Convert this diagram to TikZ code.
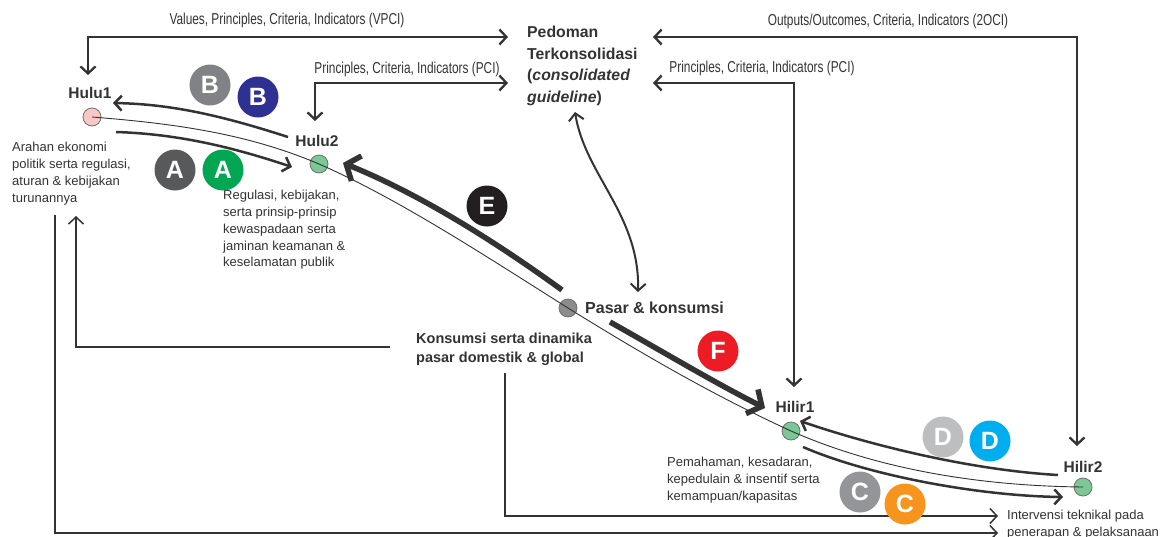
\documentclass[tikz,border=0pt]{standalone}
\usepackage{fontspec}
\setmainfont{Liberation Sans}
\newfontfamily\condfont{Liberation Sans}[FakeStretch=0.75]
\usetikzlibrary{arrows.meta}
\definecolor{ink}{HTML}{333333}
\definecolor{bgrayA}{HTML}{58595B}
\definecolor{bgreen}{HTML}{00A651}
\definecolor{bgrayB}{HTML}{808285}
\definecolor{bnavy}{HTML}{2E3192}
\definecolor{bblack}{HTML}{231F20}
\definecolor{bred}{HTML}{ED1C24}
\definecolor{bgrayD}{HTML}{BCBEC0}
\definecolor{bcyan}{HTML}{00AEEF}
\definecolor{bgrayC}{HTML}{939598}
\definecolor{borange}{HTML}{F7941D}
\definecolor{dotpink}{HTML}{F8C8C6}
\definecolor{dotgreen}{HTML}{7CC796}
\definecolor{dotgray}{HTML}{8C8C8C}
\tikzset{
  connline/.style={draw=ink, line width=2.3pt},
  fbline/.style={draw=ink, line width=1.5pt},
  flowarrow/.style={draw=ink, line width=2.5pt},
  thickarrow/.style={draw=ink, line width=5.5pt, arrows={-Straight Barb[length=11pt,width=27pt]}},
  mainline/.style={draw=ink, line width=0.9pt},
  dotnode/.style={circle, draw=ink!70, line width=0.8pt, minimum size=18pt, inner sep=0pt},
  badge/.style={circle, minimum size=41pt, inner sep=0pt, text=white, font=\fontsize{25}{25}\selectfont\bfseries},
  lbl/.style={text=ink, inner sep=0pt, font=\fontsize{15.5}{18}\selectfont\bfseries},
  bodytext/.style={text=ink, inner sep=0pt, align=left, anchor=north west, font=\fontsize{13}{17}\selectfont},
  clabel/.style={text=ink, inner sep=0pt, font=\condfont\fontsize{15.8}{17}\selectfont}
}
\begin{document}
\begin{tikzpicture}[x=1pt,y=-1pt,>={Straight Barb[length=7pt,width=15pt]}]
\path[use as bounding box, fill=white] (0,0) rectangle (1170,536);

% small dots on the chain
\node[dotnode, fill=dotpink] (h1) at (92,117) {};
\node[dotnode, fill=dotgreen] (h2) at (319,164) {};
\node[dotnode, fill=dotgray] (ps) at (568,308) {};
\node[dotnode, fill=dotgreen] (hi1) at (791,431) {};
\node[dotnode, fill=dotgreen] (hi2) at (1083,487) {};

% main thin line
\draw[mainline] (h1.center) .. controls (167,123) and (244,132) .. (h2.center)
  .. controls (399,199) and (487,257) .. (ps.center)
  .. controls (647,357) and (717,397) .. (hi1.center)
  .. controls (882,471) and (985,486) .. (hi2.center);

% labels of dots
\node[lbl] (lh1) at (90,93) {Hulu1};
\node[lbl] (lh2) at (317,141) {Hulu2};
\node[lbl, anchor=west, font=\fontsize{16}{18}\selectfont\bfseries] (lps) at (585,308) {Pasar \& konsumsi};
\node[lbl] (lhi1) at (795,407) {Hilir1};
\node[lbl] (lhi2) at (1083,467) {Hilir2};

\node[lbl, align=left, anchor=north west, font=\fontsize{15.8}{21.5}\selectfont\bfseries] (ped) at (527,26)
  {Pedoman\\Terkonsolidasi\\(\textit{consolidated}\\\textit{guideline})};

% body texts
\node[bodytext] (arahan) at (12,142) {Arahan ekonomi\\politik serta regulasi,\\aturan \& kebijakan\\turunannya};
\node[bodytext, font=\fontsize{13}{16.8}\selectfont] (regulasi) at (223,190) {Regulasi, kebijakan,\\serta prinsip-prinsip\\kewaspadaan serta\\jaminan keamanan \&\\keselamatan publik};
\node[bodytext, font=\fontsize{13}{16.7}\selectfont] (pemahaman) at (667,457) {Pemahaman, kesadaran,\\kepedulain \& insentif serta\\kemampuan/kapasitas};
\node[bodytext] (interv) at (1007,510) {Intervensi teknikal pada\\penerapan \& pelaksanaan};
\node[bodytext, font=\fontsize{14.5}{18.3}\selectfont\bfseries] (kons) at (416,333) {Konsumsi serta dinamika\\pasar domestik \& global};

% connector labels
\node[clabel] (lvpci) at (287,20) {Values, Principles, Criteria, Indicators (VPCI)};
\node[clabel] (lpci1) at (407,69) {Principles, Criteria, Indicators (PCI)};
\node[clabel] (l2oci) at (888,21) {Outputs/Outcomes, Criteria, Indicators (2OCI)};
\node[clabel] (lpci2) at (762,68) {Principles, Criteria, Indicators (PCI)};

% connectors to the guideline
\coordinate (t1) at (88,75);   \coordinate (p1) at (508,37);
\coordinate (t2) at (315,121); \coordinate (p2) at (508,83);
\coordinate (t3) at (1077,446); \coordinate (p3) at (653,37);
\coordinate (t4) at (794,387); \coordinate (p4) at (653,83);
\draw[connline,<->] (t1) |- (p1);
\draw[connline,<->] (t2) |- (p2);
\draw[connline,<->] (t3) |- (p3);
\draw[connline,<->] (t4) |- (p4);

\coordinate (pa) at (575,112); \coordinate (pb) at (638,292);
\draw[connline,<->,line width=2pt] (pa) .. controls (585,175) and (640,215) .. (pb);

% feedback lines
\coordinate (k1) at (390,347); \coordinate (k1t) at (76,216);
\draw[fbline,->] (k1) -| (k1t);
\coordinate (a1) at (55,215); \coordinate (a1t) at (998,533);
\draw[fbline,->] (a1) |- (a1t);
\coordinate (k2) at (505,373); \coordinate (k2t) at (998,516);
\draw[fbline,->] (k2) |- (k2t);

% flow arrows
\coordinate (aS) at (116,132); \coordinate (aE) at (292,167);
\draw[flowarrow,->] (aS) .. controls (180,134) and (235,148) .. (aE);
\coordinate (bS) at (288,137); \coordinate (bE) at (113,103);
\draw[flowarrow,->] (bS) .. controls (220,115) and (170,104) .. (bE);
\coordinate (eS) at (562,290); \coordinate (eE) at (343,163);
\draw[thickarrow] (eS) .. controls (482,232) and (410,190) .. (eE);
\coordinate (fS) at (610,322); \coordinate (fE) at (765,408);
\draw[thickarrow] (fS) .. controls (660,350) and (715,383) .. (fE);
\coordinate (dS) at (1058,475); \coordinate (dE) at (800,421);
\draw[flowarrow,->] (dS) .. controls (970,470) and (870,445) .. (dE);
\coordinate (cS) at (803,447); \coordinate (cE) at (1063,497);
\draw[flowarrow,->] (cS) .. controls (870,476) and (980,496) .. (cE);

% badges
\node[badge, fill=bgrayB] (bB1) at (210,85) {B};
\node[badge, fill=bnavy] (bB2) at (258,97) {B};
\node[badge, fill=bgrayA] (bA1) at (175,170) {A};
\node[badge, fill=bgreen] (bA2) at (223,170) {A};
\node[badge, fill=bblack] (bEE) at (487,206) {E};
\node[badge, fill=bred] (bFF) at (718,351) {F};
\node[badge, fill=bgrayD] (bD1) at (943,437) {D};
\node[badge, fill=bcyan] (bD2) at (990,441) {D};
\node[badge, fill=bgrayC] (bC1) at (860,492) {C};
\node[badge, fill=borange] (bC2) at (905,504) {C};
\end{tikzpicture}
\end{document}
